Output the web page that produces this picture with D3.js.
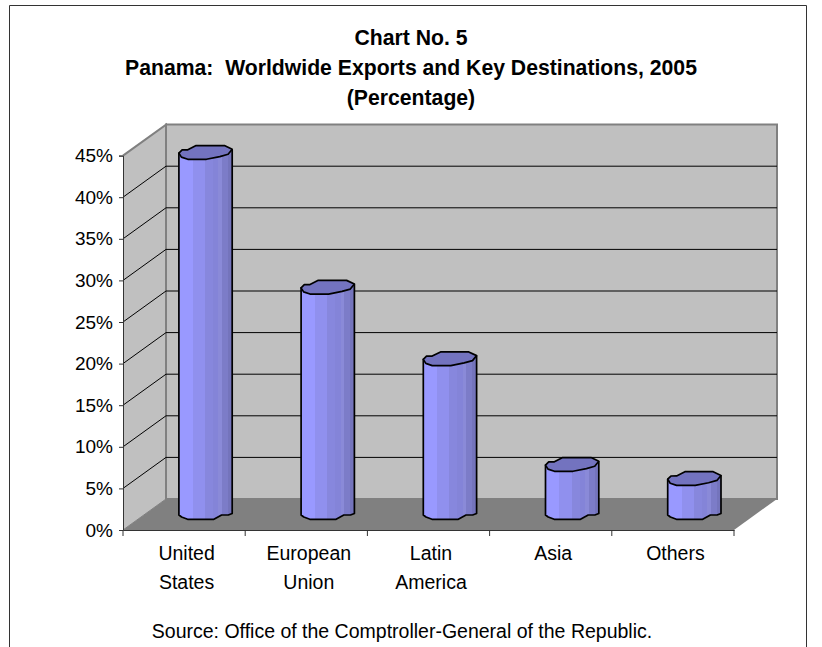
<!DOCTYPE html>
<html><head><meta charset="utf-8">
<script src="https://cdn.jsdelivr.net/npm/d3@7"></script>
<style>html,body{margin:0;padding:0;background:#fff}svg{display:block}text{font-family:"Liberation Sans",Arial,sans-serif;fill:#000;white-space:pre}</style>
</head><body><svg id="c" width="822" height="647"></svg>
<script>
const categories = [["United","States"],["European","Union"],["Latin","America"],["Asia"],["Others"]];
const values = [43.5, 27.3, 18.7, 6, 4.3];
const yTicks = [0,5,10,15,20,25,30,35,40,45];
const titleLines = ["Chart No. 5","Panama:  Worldwide Exports and Key Destinations, 2005","(Percentage)"];
const sourceText = "Source: Office of the Comptroller-General of the Republic.";

const svg = d3.select("#c");
const depth = {x:43, y:-31};
const left=123, right=734, bottom=530, top45=155.6;
const x = d3.scaleBand().domain(d3.range(categories.length)).range([left,right]);
const y = d3.scaleLinear().domain([0,45]).range([bottom,top45]);
const poly=(pts,attrs)=>{const p=svg.append("polygon").attr("points",pts.map(d=>d.join(",")).join(" "));for(const k in attrs)p.attr(k,attrs[k]);return p;};

// frame
svg.append("path").attr("d","M9.5,647V5.5H806.5V647").attr("fill","none").attr("stroke","#333").attr("stroke-width",1);

// walls
poly([[left+depth.x,y(45)+depth.y],[right+depth.x,y(45)+depth.y],[right+depth.x,y(0)+depth.y],[left+depth.x,y(0)+depth.y]],{fill:"#c0c0c0",stroke:"#808080","stroke-width":2});
poly([[left,y(45)],[left+depth.x,y(45)+depth.y],[left+depth.x,y(0)+depth.y],[left,y(0)]],{fill:"#c0c0c0"});
svg.append("path").attr("d",`M${left},${y(45)}L${left+depth.x},${y(45)+depth.y}V${y(0)+depth.y}`).attr("fill","none").attr("stroke","#808080").attr("stroke-width",2);
poly([[left,y(0)],[right,y(0)],[right+depth.x,y(0)+depth.y],[left+depth.x,y(0)+depth.y]],{fill:"#808080"});

// gridlines
const grid=yTicks.filter(d=>d>0&&d<45);
svg.selectAll(".gb").data(grid).join("line").attr("x1",left+depth.x).attr("x2",right+depth.x).attr("y1",d=>y(d)+depth.y).attr("y2",d=>y(d)+depth.y).attr("stroke","#000");
svg.selectAll(".gs").data(grid.concat([0])).join("line").attr("x1",left).attr("x2",left+depth.x).attr("y1",d=>y(d)).attr("y2",d=>y(d)+depth.y).attr("stroke",d=>d===0?"#808080":"#000");

// axes
const yAxis=d3.axisLeft(y).tickValues(yTicks).tickFormat(d=>d+"%").tickSize(4).tickPadding(6);
const gy=svg.append("g").attr("transform",`translate(${left},0)`).call(yAxis);
gy.selectAll("text").attr("font-size",19).style("font-family",'"Liberation Sans",Arial,sans-serif');
const gx=svg.append("g").attr("transform",`translate(0,${bottom})`).call(d3.axisBottom(x).tickValues([]).tickSize(0));
svg.selectAll(".xt").data(d3.range(categories.length+1)).join("line").attr("x1",d=>left+d*x.step()).attr("x2",d=>left+d*x.step()).attr("y1",bottom).attr("y2",bottom+6).attr("stroke","#333");
svg.selectAll("g .domain").attr("stroke","#333").attr("stroke-width",1);
gy.selectAll("line").attr("stroke","#333");

// banded cylinder shading
const defs=svg.append("defs");
const bands=[[0,.26,"#9999ff"],[.26,.49,"#9090ee"],[.49,.64,"#8787dd"],[.64,.74,"#8484d8"],[.74,.81,"#8a8ad8"],[.81,.92,"#7c7cc8"],[.92,1,"#7474bc"]];
const g=defs.append("linearGradient").attr("id","cyl");
g.selectAll("stop").data(bands.flatMap(b=>[[b[0],b[2]],[b[1],b[2]]])).join("stop").attr("offset",d=>d[0]).attr("stop-color",d=>d[1]);

// outline templates (relative to the bar centre)
const topShape=[[-26.7,0],[-23.5,-3.2],[-17.8,-3.3],[-9.5,-7.5],[18.8,-7.5],[26.6,-3.8],[22.5,1.2],[14.2,3.5],[0.8,6.2],[-17.8,6.2],[-24.2,4]];
const bottomShape=[[26.6,-3.3],[26.6,-1.5],[22.7,0],[16,0],[8.3,4.3],[-18,4.3],[-24,2],[-26.7,0]];
values.forEach((v,i)=>{
  const cx=x(i)+x.bandwidth()/2+depth.x/2;
  const y0=y(0)+depth.y/2+.5, y1=y(v)+depth.y/2+.5;
  const body=[[-26.7,0],[26.6,-3.3]].map(d=>[cx+d[0],y1+d[1]]).concat(bottomShape.map(d=>[cx+d[0],y0+d[1]]));
  poly(body,{fill:"url(#cyl)",stroke:"#000","stroke-width":1.7,"stroke-linejoin":"round"});
  poly(topShape.map(d=>[cx+d[0],y1+d[1]]),{fill:"#7373bf",stroke:"#000","stroke-width":1.7,"stroke-linejoin":"round"});
});

// text
svg.selectAll(".t").data(titleLines).join("text").attr("x",411).attr("y",(d,i)=>45+i*30).attr("text-anchor","middle").attr("font-weight","bold").attr("font-size",21.2).text(d=>d);
categories.forEach((c,i)=>{
  c.forEach((s,j)=>svg.append("text").attr("x",x(i)+x.bandwidth()/2+2.5).attr("y",560+j*29).attr("text-anchor","middle").attr("font-size",19.5).text(s));
});
svg.append("text").attr("x",402).attr("y",637.5).attr("text-anchor","middle").attr("font-size",19.5).text(sourceText);
</script></body></html>
